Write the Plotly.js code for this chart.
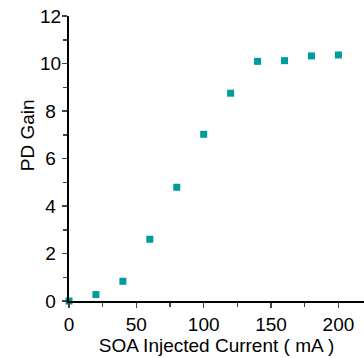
<!DOCTYPE html>
<html><head><meta charset="utf-8">
<script src="https://cdn.plot.ly/plotly-3.0.1.min.js"></script>
<style>html,body{margin:0;padding:0;background:#fff}#c{width:364px;height:358px}</style>
</head><body><div id="c"></div>
<script>
const current = [0, 20, 40, 60, 80, 100, 120, 140, 160, 180, 200];
const gain = [0, 0.27, 0.83, 2.6, 4.79, 7.02, 8.75, 10.09, 10.12, 10.32, 10.36];
const xTicks = [0, 50, 100, 150, 200];
const yTicks = [0, 2, 4, 6, 8, 10, 12];
const yTickText = ['0\u00a0', '2\u00a0', '4\u00a0', '6\u00a0', '8\u00a0', '10', '12'];

const font = {family: 'Liberation Sans, Arial, sans-serif', size: 19, color: '#000'};
Plotly.newPlot('c', [{
  x: current, y: gain, type: 'scatter', mode: 'markers',
  marker: {symbol: 'square', size: 7, color: '#009b9b'},
  cliponaxis: false
}], {
  width: 364, height: 358,
  margin: {l: 69, r: 0, t: 16, b: 57},
  paper_bgcolor: '#fff', plot_bgcolor: '#fff',
  showlegend: false,
  font: font,
  xaxis: {
    range: [0, 219], tickvals: xTicks, ticks: 'outside', ticklen: 5, tickwidth: 1.5,
    showline: true, linewidth: 2, linecolor: '#000', showgrid: false, zeroline: false,
    minor: {dtick: 25, tick0: 0, ticks: 'outside', ticklen: 4, tickwidth: 1.5, showgrid: false},
    title: {text: 'SOA Injected Current ( mA )', font: font, standoff: 4},
    tickfont: font
  },
  yaxis: {
    range: [0, 12], tickvals: yTicks, ticktext: yTickText, ticks: 'outside', ticklen: 5, tickwidth: 1.5,
    ticklabelstandoff: -3,
    showline: true, linewidth: 2, linecolor: '#000', showgrid: false, zeroline: false,
    minor: {dtick: 1, tick0: 0, ticks: 'outside', ticklen: 4, tickwidth: 1.5, showgrid: false},
    tickfont: font
  },
  annotations: [{
    text: 'PD Gain', textangle: -90, font: font, showarrow: false,
    xref: 'paper', yref: 'paper', x: -0.142, y: 0.582, xanchor: 'center', yanchor: 'middle'
  }]
}, {staticPlot: true, displayModeBar: false});
</script></body></html>
